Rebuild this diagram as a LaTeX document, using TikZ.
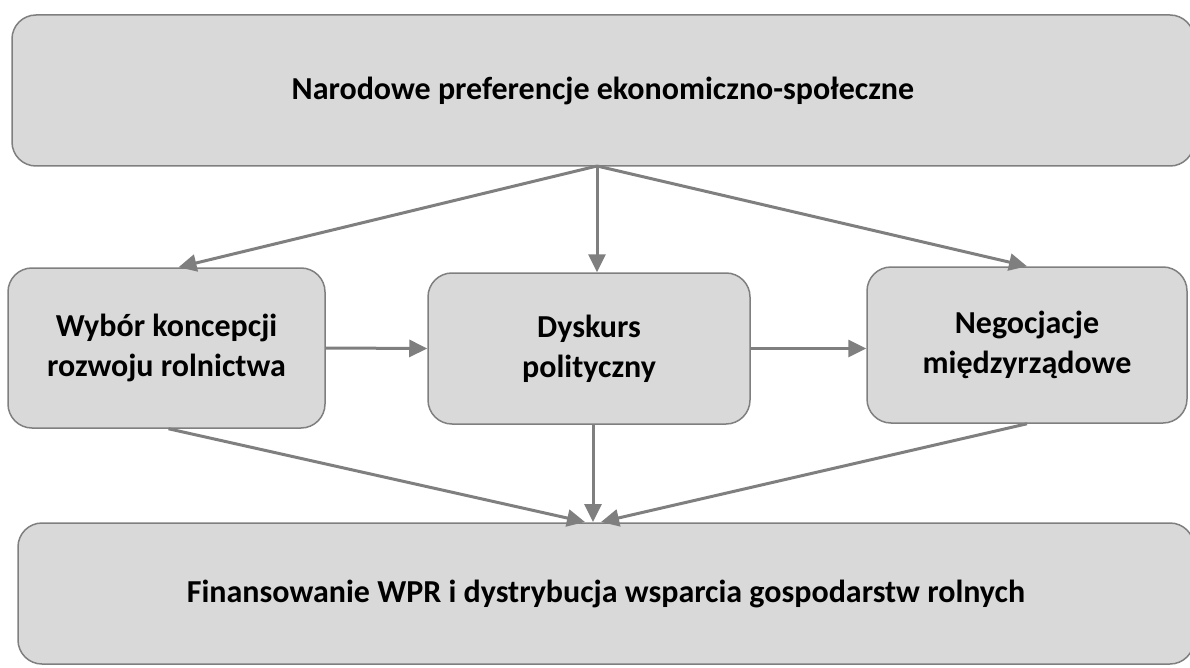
\documentclass[tikz,border=0pt]{standalone}
\usepackage{fontspec}
\setmainfont{Carlito}
\usetikzlibrary{arrows.meta}
\definecolor{boxfill}{HTML}{D9D9D9}
\definecolor{boxline}{HTML}{7F7F7F}
\tikzstyle{box}=[draw=boxline, fill=boxfill, line width=1.5pt, rounded corners=24pt, align=center, inner sep=0pt, font=\bfseries\fontsize{32}{40}\selectfont]
\tikzstyle{arr}=[draw=boxline, line width=3pt, -{Triangle[length=18pt,width=17pt]}]

\begin{document}
\begin{tikzpicture}[x=1pt,y=-1pt]
	\useasboundingbox (0,0) rectangle (1190,668);
	\node(top)[box, minimum width=1182pt, minimum height=151pt] at (603,90.5) {Narodowe preferencje ekonomiczno-społeczne};
	\node(left)[box, minimum width=317pt, minimum height=160pt] at (166.5,348) {Wybór koncepcji\\rozwoju rolnictwa};
	\node(mid)[box, minimum width=322pt, minimum height=151pt] at (589,348.5) {Dyskurs\\polityczny};
	\node(right)[box, minimum width=320pt, minimum height=156pt] at (1027,345) {Negocjacje\\międzyrządowe};
	\node(bottom)[box, minimum width=1176pt, minimum height=141pt] at (606,593.5) {Finansowanie WPR i dystrybucja wsparcia gospodarstw rolnych};
	\coordinate(hub) at (597,166);
	\coordinate(sink) at (593,522);
	\draw[arr] (hub) -- ([xshift=12pt]left.north);
	\draw[arr] (hub) -- (hub |- mid.north);
	\draw[arr] (hub) -- (right.north);
	\draw[arr] (left.east) -- (mid.west);
	\draw[arr] (mid.east) -- (mid.east -| right.west);
	\draw[arr] ([xshift=2pt]left.south) -- ([xshift=-8pt]sink);
	\draw[arr] (mid.south -| sink) -- (sink);
	\draw[arr] (right.south) -- ([xshift=8pt]sink);
\end{tikzpicture}
\end{document}
